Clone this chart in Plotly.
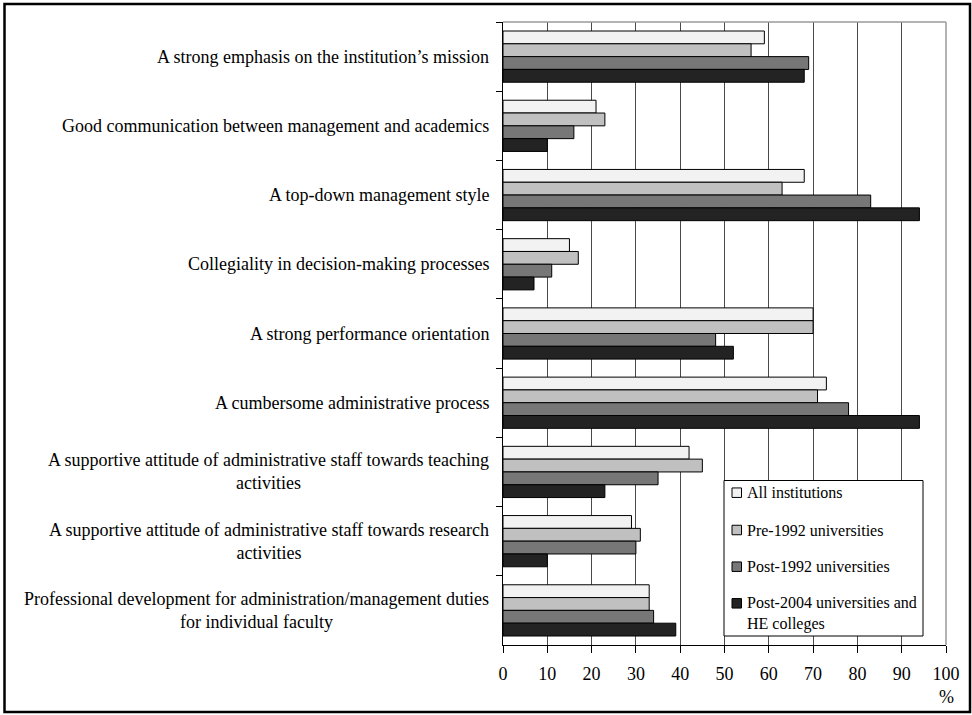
import plotly.graph_objects as go

# Survey categories (top to bottom) and the share of respondents (%) per institution type
categories = [
    "A strong emphasis on the institution\u2019s mission",
    "Good communication between management and academics",
    "A top-down management style",
    "Collegiality in decision-making processes",
    "A strong performance orientation",
    "A cumbersome administrative process",
    "A supportive attitude of administrative staff towards teaching<br>activities",
    "A supportive attitude of administrative staff towards research<br>activities",
    "Professional development for administration/management duties<br>for individual faculty",
]

all_institutions = [59, 21, 68, 15, 70, 73, 42, 29, 33]
pre_1992 = [56, 23, 63, 17, 70, 71, 45, 31, 33]
post_1992 = [69, 16, 83, 11, 48, 78, 35, 30, 34]
post_2004 = [68, 10, 94, 7, 52, 94, 23, 10, 39]

series_names = [
    "All institutions",
    "Pre-1992 universities",
    "Post-1992 universities",
    "Post-2004 universities and<br>HE colleges",
]
series_values = [all_institutions, pre_1992, post_1992, post_2004]
series_colors = ["#f2f2f2", "#c0c0c0", "#777777", "#232323"]

x_ticks = list(range(0, 101, 10))

FONT = "Liberation Serif, Times New Roman, serif"

# plot-area geometry in pixels, used to place the hand-drawn key
W, H = 972, 715
ML, MR, MT, MB = 503, 26, 22, 70
PW, PH = W - ML - MR, H - MT - MB


def px_x(px):
    return (px - ML) / PW


def px_y(py):
    return 1 - (py - MT) / PH


fig = go.Figure()
for name, vals, col in zip(series_names, series_values, series_colors):
    fig.add_trace(go.Bar(
        y=categories,
        x=vals,
        name=name,
        orientation="h",
        marker=dict(color=col, line=dict(color="#000000", width=1)),
        showlegend=False,
    ))

# Category labels: right-aligned block, lines centred on each other
annotations = []
for cat in categories:
    annotations.append(dict(
        x=0, xref="paper", y=cat, yref="y",
        text=cat, showarrow=False, xanchor="right", yanchor="middle",
        align="center", xshift=-12,
        font=dict(family=FONT, size=18, color="#000000"),
    ))

# Unit label under the 100 tick
annotations.append(dict(
    x=100, xref="x", y=-0.084, yref="paper", text="%", showarrow=False,
    xanchor="center", yanchor="middle",
    font=dict(family=FONT, size=18, color="#000000"),
))

shapes = [
    # light frame along top and right of the plot area
    dict(type="line", xref="paper", yref="paper", x0=0, x1=1, y0=1, y1=1,
         line=dict(color="#9a9a9a", width=1.5)),
    dict(type="line", xref="paper", yref="paper", x0=1, x1=1, y0=0, y1=1,
         line=dict(color="#9a9a9a", width=1.5)),
    # outer chart border
    dict(type="rect", xref="paper", yref="paper",
         x0=px_x(4.5), x1=px_x(970), y0=px_y(712), y1=px_y(4),
         line=dict(color="#000000", width=2.5), layer="above"),
    # key box
    dict(type="rect", xref="paper", yref="paper",
         x0=px_x(724), x1=px_x(923), y0=px_y(636), y1=px_y(480.5),
         line=dict(color="#000000", width=1), fillcolor="#ffffff", layer="above"),
]

# Key entries: swatch + label
key_rows = [492.7, 530, 566.7, 603.3]
for name, col, cy in zip(series_names, series_colors, key_rows):
    shapes.append(dict(
        type="rect", xref="paper", yref="paper",
        x0=px_x(732), x1=px_x(741.5), y0=px_y(cy + 4.75), y1=px_y(cy - 4.75),
        line=dict(color="#000000", width=1), fillcolor=col, layer="above",
    ))
    n_lines = name.count("<br>") + 1
    centre = cy + (n_lines - 1) * 20.8 / 2
    annotations.append(dict(
        x=px_x(745), xref="paper", y=px_y(centre), yref="paper",
        text=name, showarrow=False, xanchor="left", yanchor="middle",
        align="left",
        font=dict(family=FONT, size=16, color="#000000"),
    ))

fig.update_layout(
    width=W, height=H,
    margin=dict(l=ML, r=MR, t=MT, b=MB),
    paper_bgcolor="#ffffff", plot_bgcolor="#ffffff",
    barmode="group", bargap=0.26, bargroupgap=0,
    font=dict(family=FONT, size=18, color="#000000"),
    showlegend=False,
    xaxis=dict(
        range=[0, 100], tickvals=x_ticks, ticktext=[str(t) for t in x_ticks],
        showgrid=True, gridcolor="#4a4a4a", gridwidth=1,
        showline=True, linecolor="#000000", linewidth=1,
        ticks="outside", ticklen=7, tickcolor="#000000", tickwidth=1,
        ticklabelstandoff=5,
        tickfont=dict(family=FONT, size=18, color="#000000"),
        zeroline=False, fixedrange=True,
    ),
    yaxis=dict(
        type="category", autorange="reversed",
        showticklabels=False, showgrid=False,
        showline=True, linecolor="#000000", linewidth=1,
        ticks="outside", ticklen=6, tickcolor="#000000", tickwidth=1,
        tickson="boundaries", zeroline=False, fixedrange=True,
    ),
    annotations=annotations,
    shapes=shapes,
)

fig.write_html("out.html")
